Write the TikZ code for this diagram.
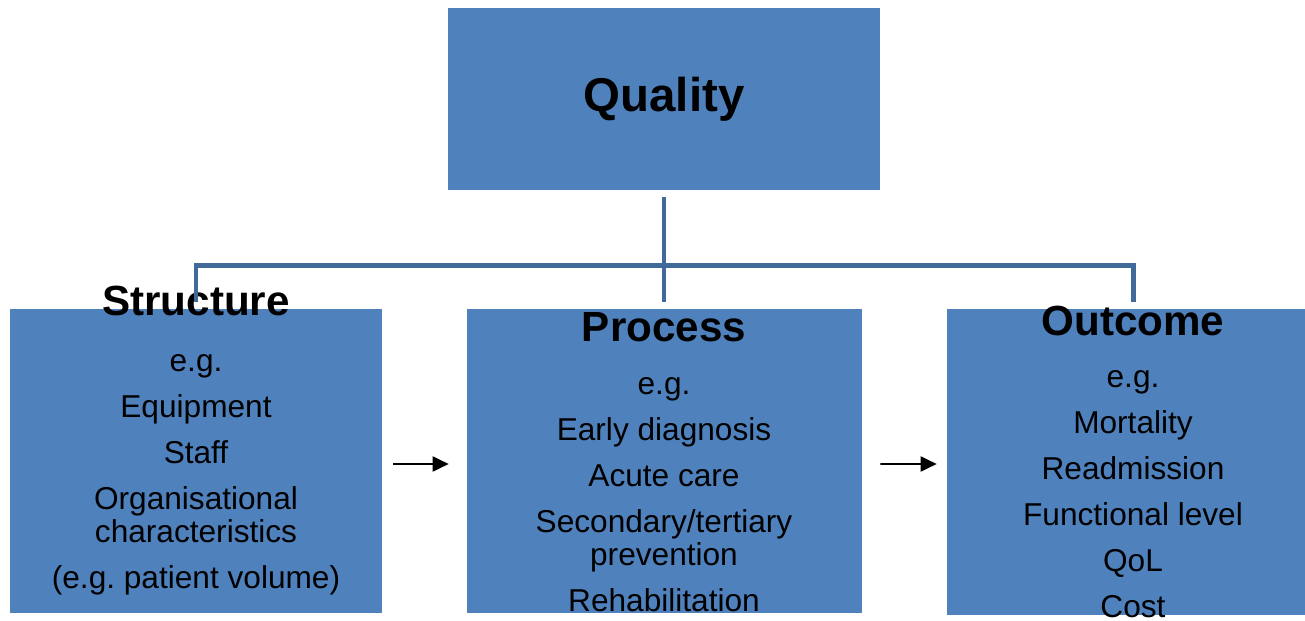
\documentclass[tikz,border=0pt]{standalone}
\usepackage{fontspec}
\setmainfont{Liberation Sans}
\usetikzlibrary{arrows.meta}
\definecolor{boxblue}{RGB}{79,129,189}
\definecolor{linkblue}{RGB}{65,105,154}
\frenchspacing
\begin{document}
\begin{tikzpicture}[x=0.02cm,y=-0.02cm,>={Triangle[length=0.32cm,width=0.3cm]},
    box/.style={fill=boxblue,draw=none,inner sep=0pt},
    title/.style={font=\bfseries\fontsize{24}{28}\selectfont,anchor=base,inner sep=0pt},
    body/.style={font=\fontsize{18}{18.8}\selectfont,align=center,anchor=base,inner sep=0pt},
    link/.style={draw=linkblue,line width=2.8pt},
    arr/.style={->,line width=1.1pt}]

\useasboundingbox (0,0) rectangle (1305,621);

\node[box,minimum width=8.64cm,minimum height=3.64cm,font=\bfseries\fontsize{27}{30}\selectfont] (quality) at (664,99) {Quality};
\node[box,minimum width=7.44cm,minimum height=6.08cm] (structure) at (196,461) {};
\node[box,minimum width=7.9cm,minimum height=6.08cm] (process) at (664.5,461) {};
\node[box,minimum width=7.46cm,minimum height=6.12cm] (outcome) at (1133.5,462) {};

\node[title] (structuret) at (196,316) {Structure};
\node[title] (processt) at (664,342) {Process};
\node[title] (outcomet) at (1133,336) {Outcome};

% anchor base = last line
\node[body] (structureb) at (196,588) {e.g.\\[7.3pt] Equipment\\[7.3pt] Staff\\[7.3pt] Organisational\\ characteristics\\[7.3pt] (e.g. patient volume)};
\node[body] (processb) at (664,611) {e.g.\\[7.3pt] Early diagnosis\\[7.3pt] Acute care\\[7.3pt] Secondary/tertiary\\ prevention\\[7.3pt] Rehabilitation};
\node[body] (outcomeb) at (1133,617) {e.g.\\[7.3pt] Mortality\\[7.3pt] Readmission\\[7.3pt] Functional level\\[7.3pt] QoL\\[7.3pt] Cost};

\path [link,shorten <=0.14cm,shorten >=0.14cm]
    (quality.south) -- (quality.south |- process.north)
;
\path [link]
    ([yshift=0.14cm]structure.north) |- ([yshift=0.86cm]outcome.north) -- ([yshift=0.14cm]outcome.north)
;

\draw[arr,shorten <=0.22cm,shorten >=0.36cm] ([yshift=-0.06cm]structure.east) -- ([yshift=-0.06cm]process.west);
\draw[arr,shorten <=0.36cm,shorten >=0.2cm] ([yshift=-0.06cm]process.east) -- ([yshift=-0.04cm]outcome.west);

\end{tikzpicture}
\end{document}
